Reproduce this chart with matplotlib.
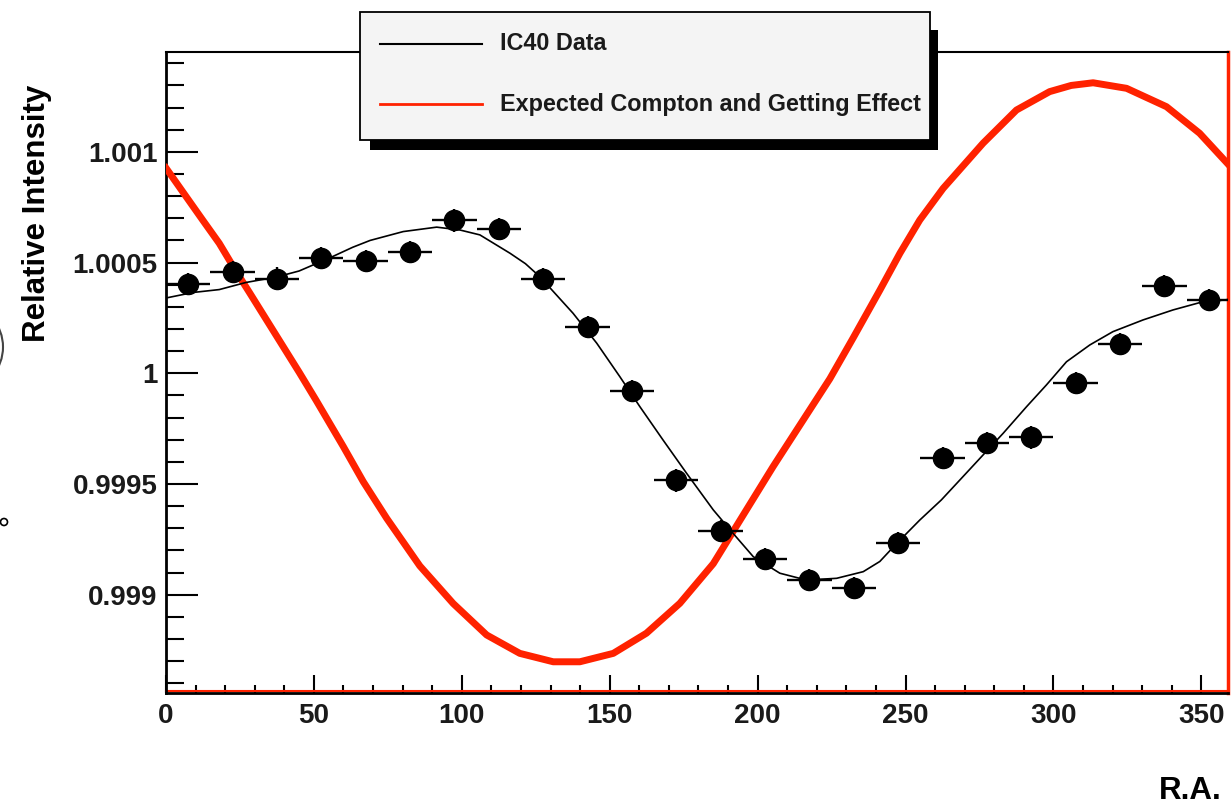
import matplotlib.pyplot as plt
from matplotlib.patches import Rectangle, Circle, Arc
from matplotlib.lines import Line2D
from matplotlib.transforms import IdentityTransform, ScaledTranslation

# IC40 data points (15 degree bins)
ra_bins = [7.5, 22.5, 37.5, 52.5, 67.5, 82.5, 97.5, 112.5, 127.5, 142.5, 157.5, 172.5,
           187.5, 202.5, 217.5, 232.5, 247.5, 262.5, 277.5, 292.5, 307.5, 322.5, 337.5, 352.5]
intensity = [1.000404, 1.000456, 1.000428, 1.000520, 1.000506, 1.000548, 1.000690, 1.000651,
             1.000425, 1.000210, 0.999921, 0.999516, 0.999288, 0.999160, 0.999066, 0.999029,
             0.999235, 0.999616, 0.999684, 0.999710, 0.999957, 1.000132, 1.000395, 1.000330]
intensity_err = [0.00005, 0.00005, 0.00005, 0.00005, 0.00005, 0.00005, 0.00005, 0.00005,
                 0.00005, 0.00005, 0.00005, 0.00005, 0.00005, 0.00005, 0.00005, 0.00005,
                 0.00005, 0.00005, 0.00005, 0.00005, 0.00005, 0.00005, 0.00005, 0.00005]
bin_halfwidth = 7.5

# fit through the data (black line)
fit_ra = [0, 9.2, 18, 27, 37.4, 45, 56.3, 63.1, 69, 80.2, 91.5, 99.4, 106.1, 116.3,
          121.5, 126.4, 137.6, 145.6, 153.4, 160.2, 168, 176, 185, 191.7, 198.5, 207.5,
          216.5, 226.7, 235.7, 241.3, 246.9, 254.8, 262.1, 269.4, 276.2, 283, 290.9,
          297.6, 304.4, 312.3, 320.1, 330.3, 340.4, 349.4, 359]
fit_val = [1.000340, 1.000365, 1.000378, 1.000410, 1.000435, 1.000462, 1.000527, 1.000569,
           1.000600, 1.000640, 1.000660, 1.000647, 1.000625, 1.000542, 1.000495, 1.000436,
           1.000271, 1.000136, 0.999985, 0.999849, 0.999699, 0.999548, 0.999383, 0.999277,
           0.999172, 0.999097, 0.999066, 0.999074, 0.999104, 0.999150, 0.999230, 0.999337,
           0.999428, 0.999533, 0.999631, 0.999729, 0.999849, 0.999947, 1.000052, 1.000128,
           1.000188, 1.000241, 1.000286, 1.000319, 1.000333]

# expected Compton-Getting effect (red line)
cg_ra = [0, 6.8, 12.4, 18, 23.7, 28.2, 33.8, 39.4, 45, 50.7, 59.9, 66.7, 74.6, 85.8, 97.1,
         108.4, 119.6, 130.9, 139.9, 151.2, 162.4, 173.7, 185, 196.2, 205.2, 215.4, 224.4,
         232.3, 241.3, 248.1, 254.8, 262.7, 267.2, 276.2, 287.5, 298.7, 306, 313.4, 324.7,
         338.2, 349.4, 359]
cg_val = [1.000927, 1.000798, 1.000692, 1.000587, 1.000460, 1.000365, 1.000245, 1.000125,
          1.000005, 0.999879, 0.999670, 0.999510, 0.999345, 0.999130, 0.998960, 0.998818,
          0.998735, 0.998697, 0.998697, 0.998735, 0.998826, 0.998961, 0.999140, 0.999383,
          0.999578, 0.999789, 0.999975, 1.000160, 1.000375, 1.000542, 1.000692, 1.000835,
          1.000903, 1.001039, 1.001189, 1.001272, 1.001300, 1.001312, 1.001287, 1.001204,
          1.001084, 1.000945]

yticks = [0.999, 0.9995, 1.0, 1.0005, 1.001]
ytick_labels = ["0.999", "0.9995", "1", "1.0005", "1.001"]
xticks = [0, 50, 100, 150, 200, 250, 300, 350]

red = "#ff2200"
plt.rcParams["font.family"] = ["Liberation Sans", "DejaVu Sans"]

fig = plt.figure(figsize=(12.31, 8.01), dpi=100)
ax = fig.add_axes([166 / 1231, 1 - 693 / 801, (1228 - 166) / 1231, (693 - 52) / 801])

ax.plot(cg_ra, cg_val, color=red, lw=5, solid_joinstyle="round", zorder=3)
ax.plot(fit_ra, fit_val, color="black", lw=1.2, zorder=4)
ax.errorbar(ra_bins, intensity, xerr=bin_halfwidth, yerr=intensity_err, fmt="o",
            color="black", ms=14.5, elinewidth=1.7, capsize=0, zorder=5)

ax.set_xlim(0, 359)
ax.set_ylim(0.998556, 1.001451)

ax.set_yticks(yticks)
ax.set_yticklabels(ytick_labels)
ax.set_yticks([0.9986, 0.9987, 0.9988, 0.9989, 0.9991, 0.9992, 0.9993, 0.9994,
               0.9996, 0.9997, 0.9998, 0.9999, 1.0001, 1.0002, 1.0003, 1.0004,
               1.0006, 1.0007, 1.0008, 1.0009, 1.0011, 1.0012, 1.0013, 1.0014], minor=True)
ax.set_xticks(xticks)
ax.set_xticks([10, 20, 30, 40, 60, 70, 80, 90, 110, 120, 130, 140, 160, 170, 180, 190,
               210, 220, 230, 240, 260, 270, 280, 290, 310, 320, 330, 340], minor=True)

ax.tick_params(axis="y", which="major", direction="in", length=23, width=1.5,
               labelsize=20, pad=6, labelcolor="#1a1a1a")
ax.tick_params(axis="y", which="minor", direction="in", length=13, width=1.5)
ax.tick_params(axis="x", which="major", direction="in", length=13, width=1.5,
               labelsize=20, pad=7, labelcolor="#1a1a1a")
ax.tick_params(axis="x", which="minor", direction="in", length=5.5, width=1.5)
for lab in ax.get_xticklabels() + ax.get_yticklabels():
    lab.set_fontweight("bold")

ax.spines["left"].set_linewidth(2)
ax.spines["top"].set_linewidth(1.5)
ax.spines["bottom"].set_linewidth(2)
ax.spines["right"].set_color(red)
ax.spines["right"].set_linewidth(2.5)
# red outline just above the bottom axis
shift = ScaledTranslation(0, 2 / 100, fig.dpi_scale_trans)
ax.plot([0, 1], [0, 0], color=red, lw=1.5, transform=ax.transAxes + shift, clip_on=False)

fig.text(37 / 1231, 1 - 213 / 801, "Relative Intensity", rotation=90, ha="center",
         va="center", fontsize=22.5, fontweight="bold")
fig.text(1222 / 1231, 1 - 799 / 801, "R.A.", ha="right", va="baseline",
         fontsize=22.5, fontweight="bold")

# legend box with black drop shadow
W, H = 1231, 801
fig.patches.append(Rectangle((370 / W, 1 - 150 / H), 568 / W, 120 / H, transform=fig.transFigure,
                             facecolor="black", edgecolor="none", zorder=10))
fig.patches.append(Rectangle((360 / W, 1 - 140 / H), 570 / W, 128 / H, transform=fig.transFigure,
                             facecolor="#f4f4f4", edgecolor="black", lw=1.3, zorder=11))
fig.lines.append(Line2D([380 / W, 482 / W], [1 - 44 / H, 1 - 44 / H], transform=fig.transFigure,
                        color="black", lw=1.5, zorder=12))
fig.lines.append(Line2D([380 / W, 482 / W], [1 - 104 / H, 1 - 104 / H], transform=fig.transFigure,
                        color=red, lw=2, zorder=12))
fig.text(500 / W, 1 - 44 / H, "IC40 Data", ha="left", va="center", fontsize=16.8,
         fontweight="bold", color="#1a1a1a", zorder=12)
fig.text(500 / W, 1 - 104 / H, "Expected Compton and Getting Effect", ha="left", va="center",
         fontsize=16.8, fontweight="bold", color="#1a1a1a", zorder=12)

# cropped bits from the neighbouring page at the left edge
fig.patches.append(Circle((4, H - 522), 3.5, transform=IdentityTransform(), fill=False,
                          edgecolor="black", lw=1.2))
fig.patches.append(Arc((-42, H - 347), 90, 90, theta1=-40, theta2=40, transform=IdentityTransform(),
                       edgecolor="#444444", lw=1.5))

fig.savefig("out.png", dpi=100)
